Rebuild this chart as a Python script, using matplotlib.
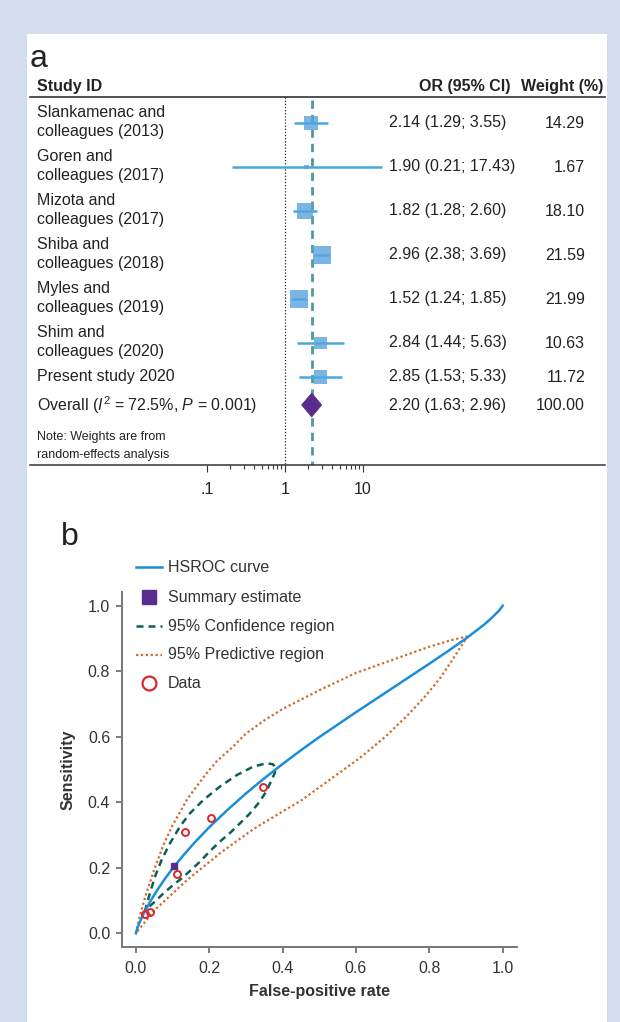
import numpy as np
import matplotlib
matplotlib.use('Agg')
import matplotlib.pyplot as plt
from matplotlib.lines import Line2D
from matplotlib.patches import Rectangle, Polygon
import matplotlib.ticker as mticker

plt.rcParams['font.family'] = ['Liberation Sans', 'DejaVu Sans']
plt.rcParams['mathtext.fontset'] = 'custom'
plt.rcParams['mathtext.rm'] = 'Liberation Sans'
plt.rcParams['mathtext.it'] = 'Liberation Sans:italic'
plt.rcParams['mathtext.bf'] = 'Liberation Sans:bold'

# ---------------- data: panel a (forest plot) ----------------
studies = ["Slankamenac and\ncolleagues (2013)", "Goren and\ncolleagues (2017)",
           "Mizota and\ncolleagues (2017)", "Shiba and\ncolleagues (2018)",
           "Myles and\ncolleagues (2019)", "Shim and\ncolleagues (2020)",
           "Present study 2020"]
odds_ratio = [2.14, 1.90, 1.82, 2.96, 1.52, 2.84, 2.85]
ci_low = [1.29, 0.21, 1.28, 2.38, 1.24, 1.44, 1.53]
ci_high = [3.55, 17.43, 2.60, 3.69, 1.85, 5.63, 5.33]
weights = [14.29, 1.67, 18.10, 21.59, 21.99, 10.63, 11.72]
overall_or, overall_low, overall_high, overall_weight = 2.20, 1.63, 2.96, 100.00
overall_label = r"Overall ($I^2$ = 72.5%, $P$ = 0.001)"
forest_ticks = [0.1, 1, 10]
forest_ticklabels = ['.1', '1', '10']

# ---------------- data: panel b (HSROC) ----------------
hsroc_fpr = [0.0, 0.003, 0.01, 0.02, 0.04, 0.06, 0.08, 0.10, 0.13, 0.16, 0.20, 0.25, 0.30,
             0.35, 0.40, 0.45, 0.50, 0.55, 0.60, 0.65, 0.70, 0.75, 0.80, 0.85, 0.90,
             0.95, 0.97, 0.99, 1.0]
hsroc_sens = [0.0, 0.013, 0.033, 0.058, 0.099, 0.135, 0.168, 0.198, 0.239, 0.277, 0.324, 0.377,
              0.427, 0.473, 0.517, 0.559, 0.599, 0.637, 0.675, 0.712, 0.749, 0.786, 0.823,
              0.861, 0.900, 0.943, 0.963, 0.985, 1.0]
conf_fpr = [0.024, 0.030, 0.038, 0.052, 0.070, 0.093, 0.120, 0.147, 0.184, 0.229, 0.275, 0.320,
            0.356, 0.374, 0.381, 0.378, 0.370, 0.355, 0.334, 0.310, 0.284, 0.257, 0.229, 0.200,
            0.175, 0.150, 0.125, 0.100, 0.075, 0.050, 0.035, 0.024]
conf_sens = [0.066, 0.090, 0.122, 0.173, 0.224, 0.275, 0.326, 0.366, 0.407, 0.448, 0.483, 0.509,
             0.519, 0.516, 0.504, 0.488, 0.468, 0.432, 0.397, 0.365, 0.336, 0.307, 0.280, 0.249,
             0.219, 0.193, 0.168, 0.146, 0.122, 0.095, 0.080, 0.066]
pred_fpr = [0.0, 0.010, 0.025, 0.050, 0.075, 0.100, 0.140, 0.190, 0.220, 0.265, 0.300, 0.350,
            0.400, 0.500, 0.600, 0.700, 0.800, 0.860, 0.902,
            0.895, 0.880, 0.860, 0.830, 0.790, 0.740, 0.680, 0.610, 0.530, 0.450, 0.400,
            0.320, 0.230, 0.140, 0.050, 0.0]
pred_sens = [0.0, 0.050, 0.110, 0.195, 0.270, 0.330, 0.410, 0.485, 0.525, 0.570, 0.610, 0.650,
             0.685, 0.742, 0.795, 0.835, 0.875, 0.895, 0.906,
             0.890, 0.865, 0.830, 0.780, 0.725, 0.665, 0.600, 0.535, 0.470, 0.405, 0.372,
             0.318, 0.245, 0.163, 0.070, 0.0]
data_fpr = [0.024, 0.038, 0.111, 0.134, 0.204, 0.347]
data_sens = [0.058, 0.066, 0.181, 0.309, 0.353, 0.446]
summary_fpr, summary_sens = 0.103, 0.206
roc_ticks = [0.0, 0.2, 0.4, 0.6, 0.8, 1.0]
legend_labels = ["HSROC curve", "Summary estimate", "95% Confidence region",
                 "95% Predictive region", "Data"]

# ---------------- styles ----------------
C_HSROC = '#1a8fd8'
C_CONF = '#0d5f58'
C_PRED = '#cf6a2a'
C_DATA = '#d9262b'
C_SUM = '#5b2c8e'
C_TXT = '#222222'
FS = 11.5

W, H = 620, 1022
fig = plt.figure(figsize=(6.2, 10.22), dpi=100)
fig.patch.set_facecolor('#d4ddef')


def fx(p):
    return p / W


def fy(p):
    return 1 - p / H


fig.add_artist(Rectangle((fx(27), 0), fx(607) - fx(27), fy(34), transform=fig.transFigure,
                         facecolor='white', edgecolor='none', zorder=0))

# ================= panel a =================
fig.text(fx(30), fy(67), 'a', fontsize=23, color=C_TXT, ha='left', va='baseline')
fig.text(fx(37), fy(87), 'Study ID', fontsize=FS, fontweight='bold', color=C_TXT, va='center')
fig.text(fx(510), fy(87), 'OR (95% CI)', fontsize=FS, fontweight='bold', color=C_TXT,
         va='center', ha='right')
fig.text(fx(603), fy(87), 'Weight (%)', fontsize=FS, fontweight='bold', color=C_TXT,
         va='center', ha='right')
fig.add_artist(Line2D([fx(30), fx(605)], [fy(97), fy(97)], transform=fig.transFigure,
                      color='#333333', lw=1.2))

row_y = [123, 167, 211, 255, 299, 343, 377]
overall_y = 405
ax_top, ax_bot = 97, 465
px_dec, x1_px = 78.0, 285.0

ax1 = fig.add_axes([fx(30), fy(ax_bot), fx(605) - fx(30), (ax_bot - ax_top) / H])
ax1.set_xscale('log')
ax1.set_xlim(10 ** ((30 - x1_px) / px_dec), 10 ** ((605 - x1_px) / px_dec))
ax1.set_ylim(ax_bot, ax_top)
ax1.patch.set_alpha(0)
for s in ['top', 'left', 'right']:
    ax1.spines[s].set_visible(False)
ax1.spines['bottom'].set_color('#333333')
ax1.spines['bottom'].set_linewidth(1.1)
ax1.xaxis.set_major_locator(mticker.FixedLocator(forest_ticks))
ax1.xaxis.set_major_formatter(mticker.FixedFormatter(forest_ticklabels))
minor = list(np.arange(2, 10) * 0.1) + list(np.arange(2, 10))
ax1.xaxis.set_minor_locator(mticker.FixedLocator(minor))
ax1.xaxis.set_minor_formatter(mticker.NullFormatter())
ax1.tick_params(axis='x', which='major', length=5, width=0.8, direction='out', pad=7,
                labelsize=FS, color='#333333', labelcolor=C_TXT)
ax1.tick_params(axis='x', which='minor', length=3, width=0.8, direction='out', color='#333333')
ax1.set_yticks([])

ax1.plot([1, 1], [ax_top, ax_bot], color='#222222', lw=0.9, ls=(0, (1, 1.5)), zorder=2)
ax1.plot([overall_or, overall_or], [ax_top + 3, ax_bot], color='#4c9c98', lw=2.0,
         ls=(0, (3, 2.2)), zorder=2)

ax1.hlines(row_y, ci_low, ci_high, color='#45a9e2', lw=1.8, zorder=3)
ax1.scatter(odds_ratio, row_y, s=[7.6 * w for w in weights], marker='s', color='#5aa3de',
            alpha=0.8, linewidths=0, zorder=4)
ax1.add_patch(Polygon([(overall_low, overall_y), (overall_or, overall_y - 12),
                       (overall_high, overall_y), (overall_or, overall_y + 12)],
                      closed=True, facecolor=C_SUM, edgecolor=C_SUM, lw=0.5, zorder=5))

for name, y, o, l, h, w in zip(studies, row_y, odds_ratio, ci_low, ci_high, weights):
    fig.text(fx(37), fy(y - 1), name, fontsize=FS, color=C_TXT, va='center', ha='left',
             linespacing=1.38)
    fig.text(fx(389), fy(y), f"{o:.2f} ({l:.2f}; {h:.2f})", fontsize=FS, color=C_TXT,
             va='center', ha='left')
    fig.text(fx(585), fy(y), f"{w:.2f}", fontsize=FS, color=C_TXT, va='center', ha='right')

fig.text(fx(37), fy(overall_y), overall_label, fontsize=FS, color=C_TXT, va='center', ha='left')
fig.text(fx(389), fy(overall_y), f"{overall_or:.2f} ({overall_low:.2f}; {overall_high:.2f})",
         fontsize=FS, color=C_TXT, va='center', ha='left')
fig.text(fx(585), fy(overall_y), f"{overall_weight:.2f}", fontsize=FS, color=C_TXT,
         va='center', ha='right')
fig.text(fx(37), fy(437), "Note: Weights are from", fontsize=9, color=C_TXT, va='center')
fig.text(fx(37), fy(455), "random-effects analysis", fontsize=9, color=C_TXT, va='center')

# ================= panel b =================
fig.text(fx(61), fy(545), 'b', fontsize=23, color=C_TXT, ha='left', va='baseline')

L, R, T, B = 122, 517, 592, 946.7
ax2 = fig.add_axes([fx(L), fy(B), fx(R) - fx(L), (B - T) / H])
ax2.set_xlim(-0.038, 1.039)
ax2.set_ylim(-0.041, 1.042)
ax2.patch.set_alpha(0)
for s in ['top', 'right']:
    ax2.spines[s].set_visible(False)
for s in ['left', 'bottom']:
    ax2.spines[s].set_color('#777777')
    ax2.spines[s].set_linewidth(1.4)
ax2.set_xticks(roc_ticks)
ax2.set_yticks(roc_ticks)
ax2.set_xticklabels([f"{t:.1f}" for t in roc_ticks])
ax2.set_yticklabels([f"{t:.1f}" for t in roc_ticks])
ax2.tick_params(axis='both', length=4.5, width=1.2, color='#666666', labelsize=FS,
                labelcolor='#333333')
ax2.tick_params(axis='x', pad=6)
ax2.tick_params(axis='y', pad=4)

ax2.plot(pred_fpr, pred_sens, color=C_PRED, lw=1.6, ls=(0, (1, 1.2)), zorder=2)
ax2.plot(conf_fpr, conf_sens, color=C_CONF, lw=1.8, ls=(0, (2.8, 2.0)), zorder=3)
ax2.plot(hsroc_fpr, hsroc_sens, color=C_HSROC, lw=1.8, zorder=4)
ax2.plot(data_fpr, data_sens, ls='none', marker='o', ms=5, mfc='none', mec=C_DATA, mew=1.4,
         zorder=5)
ax2.plot([summary_fpr], [summary_sens], ls='none', marker='s', ms=5, color=C_SUM, zorder=6)

fig.text(fx(68), fy((T + B) / 2), 'Sensitivity', rotation=90, fontsize=FS, fontweight='bold',
         color='#333333', ha='center', va='center')
fig.text(fx((L + R) / 2), fy(991.5), 'False-positive rate', fontsize=FS, fontweight='bold',
         color='#333333', ha='center', va='center')

# legend (manual)
leg_y = [567, 597, 626, 655, 683]
lx0, lx1, lxm, ltx = 136, 162, 149, 168
fig.add_artist(Line2D([fx(lx0), fx(lx1)], [fy(leg_y[0])] * 2, transform=fig.transFigure,
                      color=C_HSROC, lw=1.8))
fig.add_artist(Line2D([fx(lxm)], [fy(leg_y[1])], transform=fig.transFigure, ls='none',
                      marker='s', ms=10, color=C_SUM))
fig.add_artist(Line2D([fx(lx0), fx(lx1)], [fy(leg_y[2])] * 2, transform=fig.transFigure,
                      color=C_CONF, lw=1.8, ls=(0, (2.8, 2.0))))
fig.add_artist(Line2D([fx(lx0), fx(lx1)], [fy(leg_y[3])] * 2, transform=fig.transFigure,
                      color=C_PRED, lw=1.6, ls=(0, (1, 1.2))))
fig.add_artist(Line2D([fx(lxm)], [fy(leg_y[4])], transform=fig.transFigure, ls='none',
                      marker='o', ms=10, mfc='none', mec=C_DATA, mew=1.6))
for lab, y in zip(legend_labels, leg_y):
    fig.text(fx(ltx), fy(y), lab, fontsize=FS, color='#333333', va='center', ha='left')

fig.savefig('out.png', dpi=100, facecolor=fig.get_facecolor())
